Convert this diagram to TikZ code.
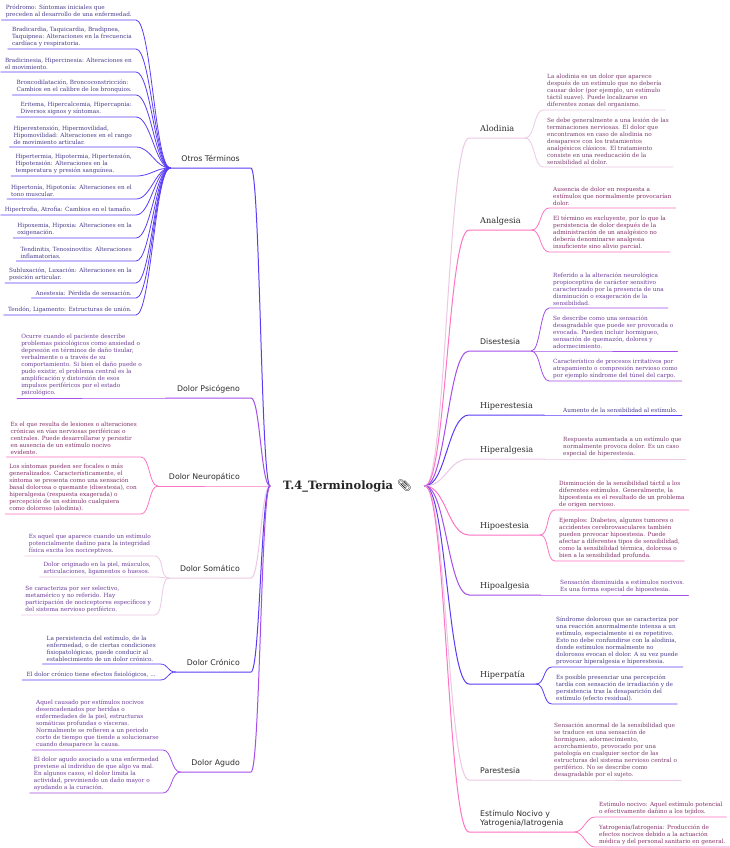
\documentclass[tikz,border=0pt]{standalone}
\usepackage{fontspec}
\setmainfont{DejaVu Serif}
\setsansfont{DejaVu Sans}
\newfontfamily\emojifont{Noto Emoji}
\usepackage{xcolor}
\usepackage{tikz}
\usetikzlibrary{positioning}
\definecolor{indigoline}{HTML}{5B3DF5}
\definecolor{violetline}{HTML}{A54FE8}
\definecolor{pinkline}{HTML}{FF74C4}
\definecolor{paleline}{HTML}{EDC8E6}
\definecolor{indigotext}{HTML}{4A3C8C}
\definecolor{violettext}{HTML}{6E3D9A}
\definecolor{pinktext}{HTML}{86306A}
\definecolor{paletext}{HTML}{7A3F70}
\tikzset{
  wire/.style={line width=1pt, line cap=round},
  twig/.style={line width=0.8pt, line cap=round},
  rootTopic/.style={font=\fontsize{11.5}{13}\selectfont\bfseries, text=black!85, inner xsep=13pt, inner ysep=4pt},
  topicbox/.style={font=\fontsize{8.2}{9}\selectfont, text=black!82, inner xsep=11pt, inner ysep=4pt, text depth=2pt, align=left},
  topicSans/.style={topicbox, font=\sffamily\fontsize{7.8}{9}\selectfont},
  leafbox/.style={font=\fontsize{5.75}{7}\selectfont, inner xsep=4pt, inner ysep=2.5pt, align=left},
  toLeft/.style={anchor=south east},
  toRight/.style={anchor=south west}
}

\begin{document}
\begin{tikzpicture}[x=1pt,y=-1pt]
\useasboundingbox (0,0) rectangle (729,848);
\fill[white] (0,0) rectangle (729,848);

\node[rootTopic] (root) at (347.5,486) {T.4\_Terminologia {\emojifont 📎}};

% left side: topics
\node[topicSans, toLeft] (otros) at (251,168) {Otros Términos};
\node[topicSans, toLeft] (psico) at (251,398) {Dolor Psicógeno};
\node[topicSans, toLeft] (neuro) at (251,486) {Dolor Neuropático};
\node[topicSans, toLeft] (somat) at (251,578) {Dolor Somático};
\node[topicSans, toLeft] (cron) at (251,672) {Dolor Crónico};
\node[topicSans, toLeft] (agudo) at (251,772) {Dolor Agudo};

\draw[wire, indigoline] (root.west) .. controls +(-9,0) and +(9,0) .. (otros.south east) -- (otros.south west);
\draw[wire, violetline] (root.west) .. controls +(-9,0) and +(9,0) .. (psico.south east) -- (psico.south west);
\draw[wire, pinkline] (root.west) .. controls +(-9,0) and +(9,0) .. (neuro.south east) -- (neuro.south west);
\draw[wire, paleline] (root.west) .. controls +(-9,0) and +(9,0) .. (somat.south east) -- (somat.south west);
\draw[wire, indigoline] (root.west) .. controls +(-9,0) and +(9,0) .. (cron.south east) -- (cron.south west);
\draw[wire, violetline] (root.west) .. controls +(-9,0) and +(9,0) .. (agudo.south east) -- (agudo.south west);

% otros terminos
\node[leafbox, toLeft, text=indigotext] (o1) at (136,20) {Pródromo: Síntomas iniciales que\\preceden al desarrollo de una enfermedad.};
\node[leafbox, toLeft, text=indigotext] (o2) at (136,49) {Bradicardia, Taquicardia, Bradipnea,\\Taquipnea: Alteraciones en la frecuencia\\cardíaca y respiratoria.};
\node[leafbox, toLeft, text=indigotext] (o3) at (136,72) {Bradicinesia, Hipercinesia: Alteraciones en\\el movimiento.};
\node[leafbox, toLeft, text=indigotext] (o4) at (136,95) {Broncodilatación, Broncoconstricción:\\Cambios en el calibre de los bronquios.};
\node[leafbox, toLeft, text=indigotext] (o5) at (136,117) {Eritema, Hipercalcemia, Hipercapnia:\\Diversos signos y síntomas.};
\node[leafbox, toLeft, text=indigotext] (o6) at (136,147) {Hiperextensión, Hipermovilidad,\\Hipomovilidad: Alteraciones en el rango\\de movimiento articular.};
\node[leafbox, toLeft, text=indigotext] (o7) at (136,176) {Hipertermia, Hipotermia, Hipertensión,\\Hipotensión: Alteraciones en la\\temperatura y presión sanguínea.};
\node[leafbox, toLeft, text=indigotext] (o8) at (136,199) {Hipertonía, Hipotonía: Alteraciones en el\\tono muscular.};
\node[leafbox, toLeft, text=indigotext] (o9) at (136,215) {Hipertrofia, Atrofia: Cambios en el tamaño.};
\node[leafbox, toLeft, text=indigotext] (o10) at (136,238) {Hipoxemia, Hipoxia: Alteraciones en la\\oxigenación.};
\node[leafbox, toLeft, text=indigotext] (o11) at (136,261) {Tendinitis, Tenosinovitis: Alteraciones\\inflamatorias.};
\node[leafbox, toLeft, text=indigotext] (o12) at (136,283) {Subluxación, Luxación: Alteraciones en la\\posición articular.};
\node[leafbox, toLeft, text=indigotext] (o13) at (136,298) {Anestesia: Pérdida de sensación.};
\node[leafbox, toLeft, text=indigotext] (o14) at (136,315) {Tendón, Ligamento: Estructuras de unión.};

\draw[twig, indigoline] (otros.south west) .. controls +(-15,0) and +(15,0) .. (o1.south east) -- (o1.south west);
\draw[twig, indigoline] (otros.south west) .. controls +(-15,0) and +(15,0) .. (o2.south east) -- (o2.south west);
\draw[twig, indigoline] (otros.south west) .. controls +(-15,0) and +(15,0) .. (o3.south east) -- (o3.south west);
\draw[twig, indigoline] (otros.south west) .. controls +(-15,0) and +(15,0) .. (o4.south east) -- (o4.south west);
\draw[twig, indigoline] (otros.south west) .. controls +(-15,0) and +(15,0) .. (o5.south east) -- (o5.south west);
\draw[twig, indigoline] (otros.south west) .. controls +(-15,0) and +(15,0) .. (o6.south east) -- (o6.south west);
\draw[twig, indigoline] (otros.south west) .. controls +(-15,0) and +(15,0) .. (o7.south east) -- (o7.south west);
\draw[twig, indigoline] (otros.south west) .. controls +(-15,0) and +(15,0) .. (o8.south east) -- (o8.south west);
\draw[twig, indigoline] (otros.south west) .. controls +(-15,0) and +(15,0) .. (o9.south east) -- (o9.south west);
\draw[twig, indigoline] (otros.south west) .. controls +(-15,0) and +(15,0) .. (o10.south east) -- (o10.south west);
\draw[twig, indigoline] (otros.south west) .. controls +(-15,0) and +(15,0) .. (o11.south east) -- (o11.south west);
\draw[twig, indigoline] (otros.south west) .. controls +(-15,0) and +(15,0) .. (o12.south east) -- (o12.south west);
\draw[twig, indigoline] (otros.south west) .. controls +(-15,0) and +(15,0) .. (o13.south east) -- (o13.south west);
\draw[twig, indigoline] (otros.south west) .. controls +(-15,0) and +(15,0) .. (o14.south east) -- (o14.south west);

% dolor psicogeno / neuropatico / somatico
\node[leafbox, toLeft, text=violettext] (ps1) at (146,398) {Ocurre cuando el paciente describe\\problemas psicológicos como ansiedad o\\depresión en términos de daño tisular,\\verbalmente o a través de su\\comportamiento. Si bien el daño puede o\\pudo existir, el problema central es la\\amplificación y distorsión de esos\\impulsos periféricos por el estado\\psicológico.};
\draw[twig, violetline] (psico.south west) -- (ps1.south east) -- (ps1.south west);

\node[leafbox, toLeft, text=pinktext] (ne1) at (141,457) {Es el que resulta de lesiones o alteraciones\\crónicas en vías nerviosas periféricas o\\centrales. Puede desarrollarse y persistir\\en ausencia de un estímulo nocivo\\evidente.};
\node[leafbox, toLeft, text=pinktext] (ne2) at (141,514) {Los síntomas pueden ser focales o más\\generalizados. Característicamente, el\\síntoma se presenta como una sensación\\basal dolorosa o quemante (disestesia), con\\hiperalgesia (respuesta exagerada) o\\percepción de un estímulo cualquiera\\como doloroso (alodinia).};
\draw[twig, pinkline] (neuro.south west) .. controls +(-9,0) and +(9,0) .. (ne1.south east) -- (ne1.south west);
\draw[twig, pinkline] (neuro.south west) .. controls +(-9,0) and +(9,0) .. (ne2.south east) -- (ne2.south west);

\node[leafbox, toLeft, text=violettext] (so1) at (155,556) {Es aquel que aparece cuando un estímulo\\potencialmente dañino para la integridad\\física excita los nociceptivos.};
\node[leafbox, toLeft, text=violettext] (so2) at (155,577) {Dolor originado en la piel, músculos,\\articulaciones, ligamentos o huesos.};
\node[leafbox, toLeft, text=violettext] (so3) at (155,615) {Se caracteriza por ser selectivo,\\metamérico y no referido. Hay\\participación de nociceptores específicos y\\del sistema nervioso periférico.};
\draw[twig, paleline] (somat.south west) .. controls +(-9,0) and +(9,0) .. (so1.south east) -- (so1.south west);
\draw[twig, paleline] (somat.south west) .. controls +(-9,0) and +(9,0) .. (so2.south east) -- (so2.south west);
\draw[twig, paleline] (somat.south west) .. controls +(-9,0) and +(9,0) .. (so3.south east) -- (so3.south west);

% dolor cronico / agudo
\node[leafbox, toLeft, text=indigotext] (cr1) at (160,664) {La persistencia del estímulo, de la\\enfermedad, o de ciertas condiciones\\fisiopatológicas, puede conducir al\\establecimiento de un dolor crónico.};
\node[leafbox, toLeft, text=indigotext] (cr2) at (160,680) {El dolor crónico tiene efectos fisiológicos, ...};
\draw[twig, indigoline] (cron.south west) .. controls +(-9,0) and +(9,0) .. (cr1.south east) -- (cr1.south west);
\draw[twig, indigoline] (cron.south west) .. controls +(-9,0) and +(9,0) .. (cr2.south east) -- (cr2.south west);

\node[leafbox, toLeft, text=violettext] (ag1) at (163,750) {Aquel causado por estímulos nocivos\\desencadenados por heridas o\\enfermedades de la piel, estructuras\\somáticas profundas o vísceras.\\Normalmente se refieren a un periodo\\corto de tiempo que tiende a solucionarse\\cuando desaparece la causa.};
\node[leafbox, toLeft, text=violettext] (ag2) at (163,793) {El dolor agudo asociado a una enfermedad\\previene al individuo de que algo va mal.\\En algunos casos, el dolor limita la\\actividad, previniendo un daño mayor o\\ayudando a la curación.};
\draw[twig, violetline] (agudo.south west) .. controls +(-9,0) and +(9,0) .. (ag1.south east) -- (ag1.south west);
\draw[twig, violetline] (agudo.south west) .. controls +(-9,0) and +(9,0) .. (ag2.south east) -- (ag2.south west);

% right side: topics
\node[topicbox, toRight] (alod) at (469,138) {Alodinia};
\node[topicbox, toRight] (analg) at (469,230) {Analgesia};
\node[topicSans, toRight] (dises) at (469,351) {Disestesia};
\node[topicbox, toRight] (hest) at (469,415) {Hiperestesia};
\node[topicbox, toRight] (halg) at (469,459) {Hiperalgesia};
\node[topicbox, toRight] (hipo) at (469,535) {Hipoestesia};
\node[topicbox, toRight] (hpalg) at (469,595) {Hipoalgesia};
\node[topicbox, toRight] (hpat) at (469,684) {Hiperpatía};
\node[topicSans, toRight] (pares) at (469,780) {Parestesia};
\node[topicSans, toRight] (estim) at (469,832) {Estímulo Nocivo y\\Yatrogenia/Iatrogenia};

\draw[wire, paleline] (root.east) .. controls +(21,0) and +(-21,0) .. (alod.south west) -- (alod.south east);
\draw[wire, pinkline] (root.east) .. controls +(21,0) and +(-21,0) .. (analg.south west) -- (analg.south east);
\draw[wire, violetline] (root.east) .. controls +(21,0) and +(-21,0) .. (dises.south west) -- (dises.south east);
\draw[wire, indigoline] (root.east) .. controls +(21,0) and +(-21,0) .. (hest.south west) -- (hest.south east);
\draw[wire, paleline] (root.east) .. controls +(21,0) and +(-21,0) .. (halg.south west) -- (halg.south east);
\draw[wire, pinkline] (root.east) .. controls +(21,0) and +(-21,0) .. (hipo.south west) -- (hipo.south east);
\draw[wire, violetline] (root.east) .. controls +(21,0) and +(-21,0) .. (hpalg.south west) -- (hpalg.south east);
\draw[wire, indigoline] (root.east) .. controls +(21,0) and +(-21,0) .. (hpat.south west) -- (hpat.south east);
\draw[wire, paleline] (root.east) .. controls +(21,0) and +(-21,0) .. (pares.south west) -- (pares.south east);
\draw[wire, pinkline] (root.east) .. controls +(21,0) and +(-21,0) .. (estim.south west) -- (estim.south east);

% alodinia / analgesia / disestesia
\node[leafbox, toRight, text=paletext] (al1) at (543,110) {La alodinia es un dolor que aparece\\después de un estímulo que no debería\\causar dolor (por ejemplo, un estímulo\\táctil suave). Puede localizarse en\\diferentes zonas del organismo.};
\node[leafbox, toRight, text=paletext] (al2) at (543,167) {Se debe generalmente a una lesión de las\\terminaciones nerviosas. El dolor que\\encontramos en caso de alodinia no\\desaparece con los tratamientos\\analgésicos clásicos. El tratamiento\\consiste en una reeducación de la\\sensibilidad al dolor.};
\draw[twig, paleline] (alod.south east) .. controls +(9,0) and +(-9,0) .. (al1.south west) -- (al1.south east);
\draw[twig, paleline] (alod.south east) .. controls +(9,0) and +(-9,0) .. (al2.south west) -- (al2.south east);

\node[leafbox, toRight, text=pinktext] (an1) at (549,208) {Ausencia de dolor en respuesta a\\estímulos que normalmente provocarían\\dolor.};
\node[leafbox, toRight, text=pinktext] (an2) at (549,252) {El término es excluyente, por lo que la\\persistencia de dolor después de la\\administración de un analgésico no\\debería denominarse analgesia\\insuficiente sino alivio parcial.};
\draw[twig, pinkline] (analg.south east) .. controls +(9,0) and +(-9,0) .. (an1.south west) -- (an1.south east);
\draw[twig, pinkline] (analg.south east) .. controls +(9,0) and +(-9,0) .. (an2.south west) -- (an2.south east);

\node[leafbox, toRight, text=violettext] (di1) at (549,308) {Referido a la alteración neurológica\\propioceptiva de carácter sensitivo\\caracterizado por la presencia de una\\disminución o exageración de la\\sensibilidad.};
\node[leafbox, toRight, text=violettext] (di2) at (549,351) {Se describe como una sensación\\desagradable que puede ser provocada o\\evocada. Pueden incluir hormigueo,\\sensación de quemazón, dolores y\\adormecimiento.};
\node[leafbox, toRight, text=violettext] (di3) at (549,381) {Característico de procesos irritativos por\\atrapamiento o compresión nervioso como\\por ejemplo síndrome del túnel del carpo.};
\draw[twig, violetline] (dises.south east) .. controls +(9,0) and +(-9,0) .. (di1.south west) -- (di1.south east);
\draw[twig, violetline] (dises.south east) .. controls +(9,0) and +(-9,0) .. (di2.south west) -- (di2.south east);
\draw[twig, violetline] (dises.south east) .. controls +(9,0) and +(-9,0) .. (di3.south west) -- (di3.south east);

% hiperestesia / hiperalgesia / hipoestesia / hipoalgesia
\node[leafbox, toRight, text=indigotext] (he1) at (559,415) {Aumento de la sensibilidad al estímulo.};
\draw[twig, indigoline] (hest.south east) -- (he1.south west) -- (he1.south east);

\node[leafbox, toRight, text=paletext] (ha1) at (559,459) {Respuesta aumentada a un estímulo que\\normalmente provoca dolor. Es un caso\\especial de hiperestesia.};
\draw[twig, paleline] (halg.south east) -- (ha1.south west) -- (ha1.south east);

\node[leafbox, toRight, text=pinktext] (ho1) at (555,510) {Disminución de la sensibilidad táctil a los\\diferentes estímulos. Generalmente, la\\hipoestesia es el resultado de un problema\\de origen nervioso.};
\node[leafbox, toRight, text=pinktext] (ho2) at (555,561) {Ejemplos: Diabetes, algunos tumores o\\accidentes cerebrovasculares también\\pueden provocar hipoestesia. Puede\\afectar a diferentes tipos de sensibilidad,\\como la sensibilidad térmica, dolorosa o\\bien a la sensibilidad profunda.};
\draw[twig, pinkline] (hipo.south east) .. controls +(9,0) and +(-9,0) .. (ho1.south west) -- (ho1.south east);
\draw[twig, pinkline] (hipo.south east) .. controls +(9,0) and +(-9,0) .. (ho2.south west) -- (ho2.south east);

\node[leafbox, toRight, text=violettext] (hg1) at (556,595) {Sensación disminuida a estímulos nocivos.\\Es una forma especial de hipoestesia.};
\draw[twig, violetline] (hpalg.south east) -- (hg1.south west) -- (hg1.south east);

% hiperpatia / parestesia / estimulo nocivo
\node[leafbox, toRight, text=indigotext] (hp1) at (552,667) {Síndrome doloroso que se caracteriza por\\una reacción anormalmente intensa a un\\estímulo, especialmente si es repetitivo.\\Esto no debe confundirse con la alodinia,\\donde estímulos normalmente no\\dolorosos evocan el dolor. A su vez puede\\provocar hiperalgesia e hiperestesia.};
\node[leafbox, toRight, text=indigotext] (hp2) at (552,704) {Es posible presenciar una percepción\\tardía con sensación de irradiación y de\\persistencia tras la desaparición del\\estímulo (efecto residual).};
\draw[twig, indigoline] (hpat.south east) .. controls +(9,0) and +(-9,0) .. (hp1.south west) -- (hp1.south east);
\draw[twig, indigoline] (hpat.south east) .. controls +(9,0) and +(-9,0) .. (hp2.south west) -- (hp2.south east);

\node[leafbox, toRight, text=paletext] (pa1) at (550,780) {Sensación anormal de la sensibilidad que\\se traduce en una sensación de\\hormigueo, adormecimiento,\\acorchamiento, provocado por una\\patología en cualquier sector de las\\estructuras del sistema nervioso central o\\periférico. No se describe como\\desagradable por el sujeto.};
\draw[twig, paleline] (pares.south east) -- (pa1.south west) -- (pa1.south east);

\node[leafbox, toRight, text=pinktext] (es1) at (595,817) {Estímulo nocivo: Aquel estímulo potencial\\o efectivamente dañino a los tejidos.};
\node[leafbox, toRight, text=pinktext] (es2) at (595,847) {Yatrogenia/Iatrogenia: Producción de\\efectos nocivos debido a la actuación\\médica y del personal sanitario en general.};
\draw[twig, pinkline] (estim.south east) .. controls +(9,0) and +(-9,0) .. (es1.south west) -- (es1.south east);
\draw[twig, pinkline] (estim.south east) .. controls +(9,0) and +(-9,0) .. (es2.south west) -- (es2.south east);
\end{tikzpicture}
\end{document}
